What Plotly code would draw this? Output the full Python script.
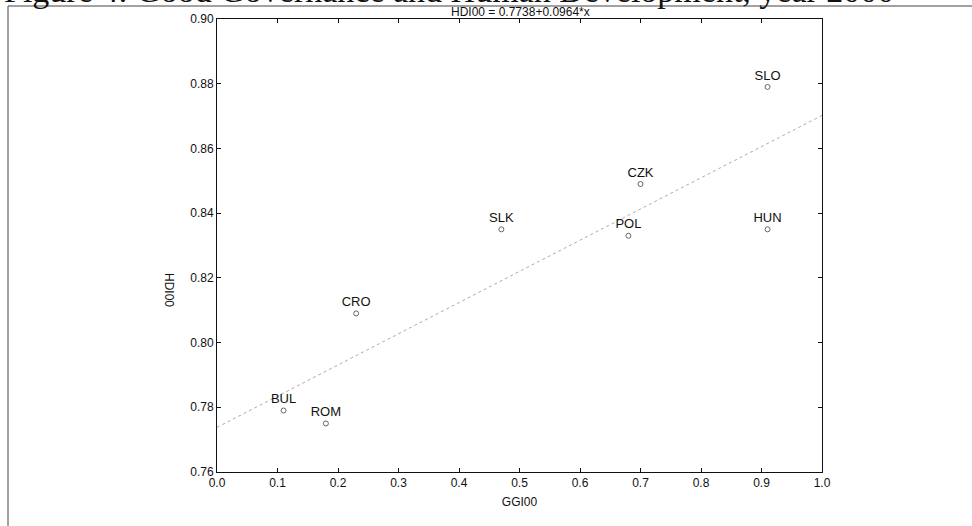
import plotly.graph_objects as go

countries = ["BUL", "ROM", "CRO", "SLK", "POL", "CZK", "HUN", "SLO"]
ggi00 = [0.11, 0.18, 0.23, 0.47, 0.68, 0.70, 0.91, 0.91]
hdi00 = [0.779, 0.775, 0.809, 0.835, 0.833, 0.849, 0.835, 0.879]
intercept = 0.7738
slope = 0.0964
fit_x = [0.0, 1.0]
fit_y = [intercept + slope * v for v in fit_x]
x_ticks = [0.0, 0.1, 0.2, 0.3, 0.4, 0.5, 0.6, 0.7, 0.8, 0.9, 1.0]
y_ticks = [0.76, 0.78, 0.80, 0.82, 0.84, 0.86, 0.88, 0.90]

W, H = 972, 526
L, R, T, B = 217, 150, 19, 54
pw, ph = W - L - R, H - T - B


def px(x):
    return (x - L) / pw


def py(y):
    return (H - B - y) / ph


fig = go.Figure()
fig.add_trace(go.Scatter(
    x=fit_x, y=fit_y, mode="lines",
    line=dict(color="#ababab", width=1, dash="dot"),
    hoverinfo="skip", showlegend=False))
fig.add_trace(go.Scatter(
    x=ggi00, y=hdi00, mode="markers+text", text=countries,
    textposition="top center",
    textfont=dict(family="Liberation Sans, Arial, sans-serif", size=13, color="#111"),
    marker=dict(symbol="circle-open", size=5, color="#666", line=dict(width=1)),
    showlegend=False))

font = dict(family="Liberation Sans, Arial, sans-serif", size=12, color="#111")
fig.update_layout(
    width=W, height=H,
    margin=dict(l=L, r=R, t=T, b=B, autoexpand=False),
    paper_bgcolor="white", plot_bgcolor="white",
    font=font,
    xaxis=dict(range=[0, 1], tickvals=x_ticks, tickformat=".1f",
               showgrid=False, zeroline=False, showline=True, linecolor="#111",
               linewidth=1, mirror="ticks", ticks="inside", ticklen=4,
               tickcolor="#111", tickfont=font,
               title=dict(text="GGI00", font=font, standoff=8)),
    yaxis=dict(range=[0.76, 0.90], tickvals=y_ticks, tickformat=".2f",
               showgrid=False, zeroline=False, showline=True, linecolor="#111",
               linewidth=1, mirror="ticks", ticks="inside", ticklen=4,
               tickcolor="#111", tickfont=font),
)

fig.add_annotation(text="HDI00", textangle=90, x=px(160), y=py(290),
                   xref="paper", yref="paper", showarrow=False, font=font)
fig.add_annotation(text="HDI00 = 0.7738+0.0964*x", x=px(520), y=py(12),
                   yanchor="middle",
                   xref="paper", yref="paper", showarrow=False, font=font)
fig.add_annotation(text="Figure 4: Good Governance and Human Development, year 2000",
                   x=px(2), y=py(11), xanchor="left", yanchor="bottom",
                   xref="paper", yref="paper", showarrow=False,
                   font=dict(family="Liberation Serif, Times New Roman, serif",
                             size=34, color="#111"))
# scanned figure frame
fig.add_shape(type="line", xref="paper", yref="paper",
              x0=px(8), x1=px(972), y0=py(6), y1=py(6),
              line=dict(color="#444", width=1))
fig.add_shape(type="line", xref="paper", yref="paper",
              x0=px(8), x1=px(8), y0=py(6), y1=py(526),
              line=dict(color="#444", width=1))

fig.write_html("out.html",
               config={"displayModeBar": False},
               post_script="document.body.style.margin='0';"
                           "document.body.style.overflow='hidden';")
